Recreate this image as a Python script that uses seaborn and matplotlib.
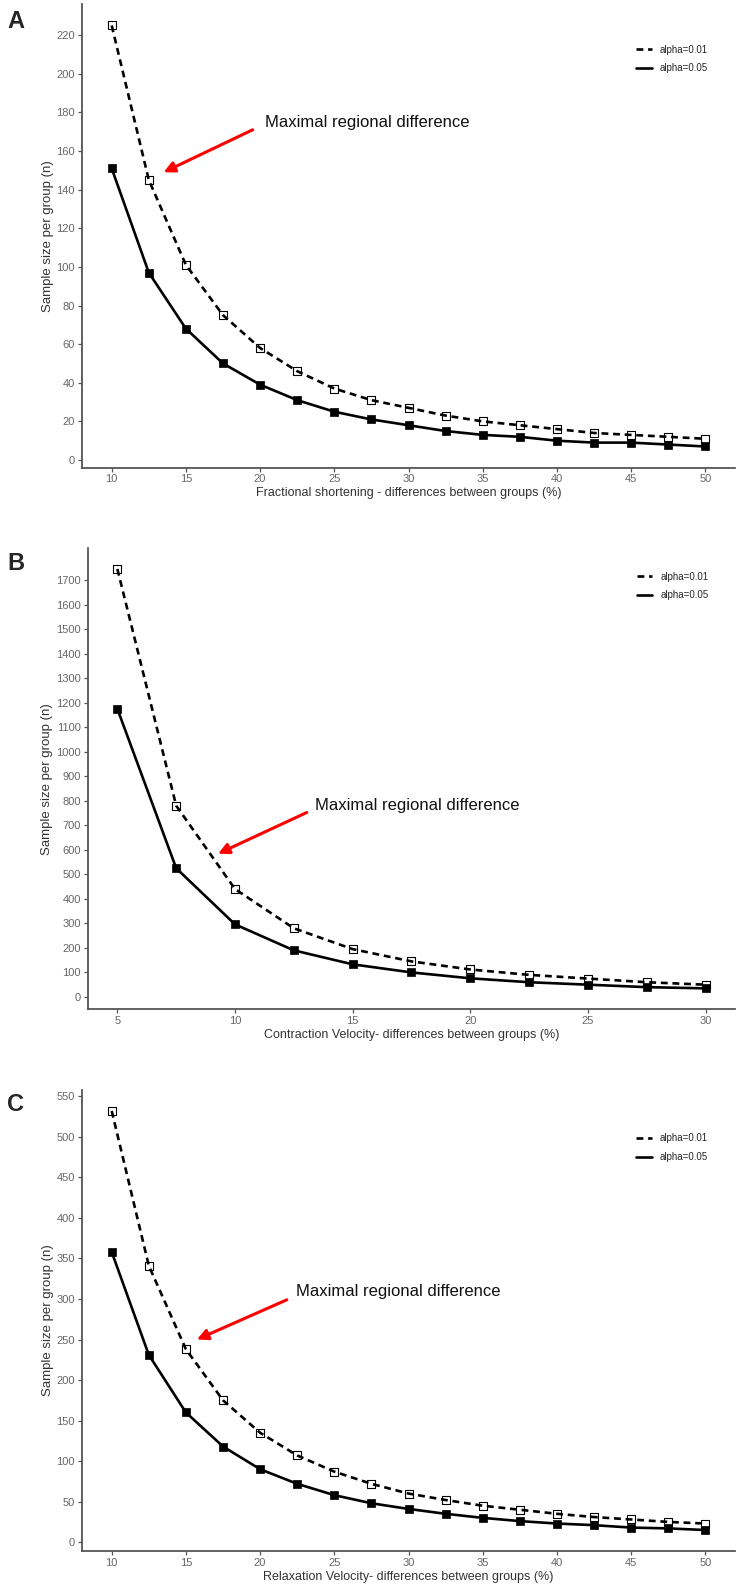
import matplotlib
matplotlib.use("Agg")
import matplotlib.pyplot as plt
from matplotlib.lines import Line2D
import seaborn as sns

# x values: differences between groups (%)
pct_fs = [10, 12.5, 15, 17.5, 20, 22.5, 25, 27.5, 30, 32.5, 35, 37.5, 40, 42.5, 45, 47.5, 50]
pct_cv = [5, 7.5, 10, 12.5, 15, 17.5, 20, 22.5, 25, 27.5, 30]
pct_rv = [10, 12.5, 15, 17.5, 20, 22.5, 25, 27.5, 30, 32.5, 35, 37.5, 40, 42.5, 45, 47.5, 50]

# sample size per group (n)
fs_a01 = [225, 145, 101, 75, 58, 46, 37, 31, 27, 23, 20, 18, 16, 14, 13, 12, 11]
fs_a05 = [151, 97, 68, 50, 39, 31, 25, 21, 18, 15, 13, 12, 10, 9, 9, 8, 7]
cv_a01 = [1745, 780, 440, 280, 195, 145, 112, 90, 75, 60, 50]
cv_a05 = [1175, 525, 296, 190, 133, 100, 76, 60, 50, 40, 35]
rv_a01 = [532, 341, 238, 175, 135, 107, 87, 72, 60, 52, 45, 40, 35, 31, 28, 25, 23]
rv_a05 = [358, 231, 160, 118, 90, 72, 58, 48, 41, 35, 30, 26, 23, 21, 18, 17, 15]

yticks_fs = list(range(0, 221, 20))
yticks_cv = list(range(0, 1701, 100))
yticks_rv = list(range(0, 551, 50))
xticks_fs = [10, 15, 20, 25, 30, 35, 40, 45, 50]
xticks_cv = [5, 10, 15, 20, 25, 30]
xticks_rv = [10, 15, 20, 25, 30, 35, 40, 45, 50]

labels = ["alpha=0.01", "alpha=0.05"]
ylab = "Sample size per group (n)"
xlab_fs = "Fractional shortening - differences between groups (%)"
xlab_cv = "Contraction Velocity- differences between groups (%)"
xlab_rv = "Relaxation Velocity- differences between groups (%)"
note = "Maximal regional difference"

sns.set_style("ticks")
plt.rcParams["font.family"] = ["Liberation Sans", "DejaVu Sans"]

GREY = "#555555"
TICKC = "#666666"
DASH = (0, (2.6, 1.8))


def expand(vals):
    lo, hi = min(vals), max(vals)
    pad = (hi - lo) * 0.05
    return lo - pad, hi + pad


def draw_panel(ax, x, y01, y05, xlabel, xticks, yticks, arrow, legend_y):
    sns.lineplot(x=x, y=y01, ax=ax, color="black", linewidth=1.9,
                 linestyle=DASH, zorder=3)
    sns.scatterplot(x=x, y=y01, ax=ax, marker="s", s=36, color="white",
                    edgecolor="black", linewidth=0.8, zorder=2)
    sns.lineplot(x=x, y=y05, ax=ax, color="black", linewidth=1.9, zorder=3)
    sns.scatterplot(x=x, y=y05, ax=ax, marker="s", s=40, color="black",
                    edgecolor="black", linewidth=0.5, zorder=4)

    ax.set_xlim(*expand(x))
    ax.set_ylim(*expand(y01 + y05))
    ax.set_xticks(xticks)
    ax.set_yticks(yticks)
    ax.set_xlabel(xlabel, fontsize=9, color="#333333", labelpad=2)
    ax.set_ylabel(ylab, fontsize=9.5, color="#333333", labelpad=2)
    ax.tick_params(axis="both", labelsize=8, colors=GREY, labelcolor=TICKC,
                   length=3, width=0.9, pad=2)
    sns.despine(ax=ax)
    for s in ["left", "bottom"]:
        ax.spines[s].set_color(GREY)
        ax.spines[s].set_linewidth(1.3)

    head, tail, txt = arrow
    ax.annotate("", xy=head, xytext=tail,
                arrowprops=dict(arrowstyle="-|>", color="red", lw=2.2,
                                mutation_scale=16, shrinkA=0, shrinkB=0))
    ax.text(txt[0], txt[1], note, fontsize=12, va="center", ha="left",
            color="#111111")

    handles = [Line2D([0], [0], color="black", lw=1.9, linestyle=DASH),
               Line2D([0], [0], color="black", lw=1.9)]
    ax.legend(handles, labels, loc="upper left", bbox_to_anchor=(0.835, legend_y),
              frameon=False, fontsize=7, handlelength=1.6, handletextpad=0.8,
              labelspacing=0.9)


fig = plt.figure(figsize=(7.39, 15.87), dpi=100)
ax_a = fig.add_axes([0.111, 0.7054, 0.8836, 0.2918])
ax_b = fig.add_axes([0.119, 0.3640, 0.8755, 0.2907])
ax_c = fig.add_axes([0.111, 0.0227, 0.8836, 0.2905])

draw_panel(ax_a, pct_fs, fs_a01, fs_a05, xlab_fs, xticks_fs, yticks_fs,
           ((13.5, 149), (19.5, 171), (20.3, 175)), 0.932)
draw_panel(ax_b, pct_cv, cv_a01, cv_a05, xlab_cv, xticks_cv, yticks_cv,
           ((9.28, 584), (13.05, 752), (13.39, 780)), 0.968)
draw_panel(ax_c, pct_rv, rv_a01, rv_a05, xlab_rv, xticks_rv, yticks_rv,
           ((15.74, 250), (21.8, 299), (22.4, 309)), 0.925)

for letter, ypix in [("A", 10), ("B", 552), ("C", 1093)]:
    fig.text(7 / 739, 1 - ypix / 1587, letter, fontsize=17, fontweight="bold",
             va="top", ha="left")

fig.savefig("out.png", dpi=100)
